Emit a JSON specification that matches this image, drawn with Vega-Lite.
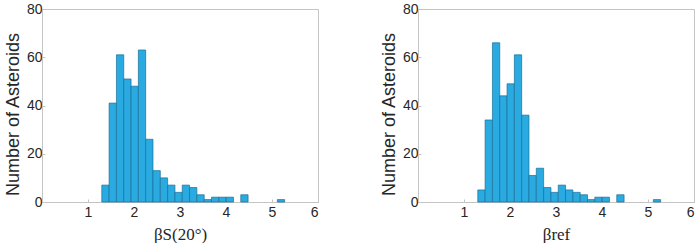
{
  "$schema": "https://vega.github.io/schema/vega-lite/v6.json",
  "padding": {"left": 3, "top": 1, "right": 0, "bottom": 0},
  "background": "white",
  "datasets": {
    "bs": [
      {"x0": 1.300, "x1": 1.459, "n": 7},
      {"x0": 1.459, "x1": 1.618, "n": 41},
      {"x0": 1.618, "x1": 1.777, "n": 61},
      {"x0": 1.777, "x1": 1.936, "n": 51},
      {"x0": 1.936, "x1": 2.095, "n": 48},
      {"x0": 2.095, "x1": 2.254, "n": 63},
      {"x0": 2.254, "x1": 2.413, "n": 26},
      {"x0": 2.413, "x1": 2.572, "n": 13},
      {"x0": 2.572, "x1": 2.731, "n": 10},
      {"x0": 2.731, "x1": 2.890, "n": 7},
      {"x0": 2.890, "x1": 3.049, "n": 4},
      {"x0": 3.049, "x1": 3.208, "n": 7},
      {"x0": 3.208, "x1": 3.367, "n": 6},
      {"x0": 3.367, "x1": 3.526, "n": 3},
      {"x0": 3.526, "x1": 3.685, "n": 1},
      {"x0": 3.685, "x1": 3.844, "n": 2},
      {"x0": 3.844, "x1": 4.003, "n": 2},
      {"x0": 4.003, "x1": 4.162, "n": 2},
      {"x0": 4.321, "x1": 4.480, "n": 3},
      {"x0": 5.116, "x1": 5.275, "n": 1}
    ],
    "bref": [
      {"x0": 1.300, "x1": 1.459, "n": 5},
      {"x0": 1.459, "x1": 1.618, "n": 34},
      {"x0": 1.618, "x1": 1.777, "n": 66},
      {"x0": 1.777, "x1": 1.936, "n": 44},
      {"x0": 1.936, "x1": 2.095, "n": 49},
      {"x0": 2.095, "x1": 2.254, "n": 61},
      {"x0": 2.254, "x1": 2.413, "n": 36},
      {"x0": 2.413, "x1": 2.572, "n": 11},
      {"x0": 2.572, "x1": 2.731, "n": 14},
      {"x0": 2.731, "x1": 2.890, "n": 6},
      {"x0": 2.890, "x1": 3.049, "n": 4},
      {"x0": 3.049, "x1": 3.208, "n": 7},
      {"x0": 3.208, "x1": 3.367, "n": 5},
      {"x0": 3.367, "x1": 3.526, "n": 4},
      {"x0": 3.526, "x1": 3.685, "n": 3},
      {"x0": 3.685, "x1": 3.844, "n": 1},
      {"x0": 3.844, "x1": 4.003, "n": 2},
      {"x0": 4.003, "x1": 4.162, "n": 2},
      {"x0": 4.321, "x1": 4.480, "n": 3},
      {"x0": 5.116, "x1": 5.275, "n": 1}
    ]
  },
  "config": {
    "view": {"stroke": "#c4c4c4", "strokeWidth": 1},
    "axis": {
      "labelFont": "Liberation Sans",
      "labelFontSize": 14,
      "labelColor": "#262626",
      "titleFont": "Liberation Sans",
      "titleFontWeight": "normal",
      "titleColor": "#262626",
      "domainColor": "#c4c4c4",
      "tickColor": "#c4c4c4",
      "tickSize": -3,
      "grid": false
    }
  },
  "spacing": 60,
  "hconcat": [
    {
      "width": 276,
      "height": 193,
      "data": {"name": "bs"},
      "mark": {"type": "bar", "fill": "#29abe2", "stroke": "#1b6f96", "strokeWidth": 0.7},
      "encoding": {
        "x": {"field": "x0", "type": "quantitative", "scale": {"domain": [0, 6], "nice": false},
          "axis": {"values": [1, 2, 3, 4, 5, 6], "title": "βS(20°)", "titleFont": "Liberation Serif", "titleFontSize": 17, "titlePadding": 7, "labelPadding": 6}},
        "x2": {"field": "x1"},
        "y": {"field": "n", "type": "quantitative", "scale": {"domain": [0, 80], "nice": false},
          "axis": {"values": [0, 20, 40, 60, 80], "title": "Number of Asteroids", "titleFontSize": 18, "titleY": 105, "labelPadding": 3, "titlePadding": 4}},
        "y2": {"datum": 0}
      }
    },
    {
      "width": 276,
      "height": 193,
      "data": {"name": "bref"},
      "mark": {"type": "bar", "fill": "#29abe2", "stroke": "#1b6f96", "strokeWidth": 0.7},
      "encoding": {
        "x": {"field": "x0", "type": "quantitative", "scale": {"domain": [0, 6], "nice": false},
          "axis": {"values": [1, 2, 3, 4, 5, 6], "title": "βref", "titleFont": "Liberation Serif", "titleFontSize": 17, "titlePadding": 7, "labelPadding": 6}},
        "x2": {"field": "x1"},
        "y": {"field": "n", "type": "quantitative", "scale": {"domain": [0, 80], "nice": false},
          "axis": {"values": [0, 20, 40, 60, 80], "title": "Number of Asteroids", "titleFontSize": 18, "titleY": 105, "labelPadding": 3, "titlePadding": 4}},
        "y2": {"datum": 0}
      }
    }
  ]
}
